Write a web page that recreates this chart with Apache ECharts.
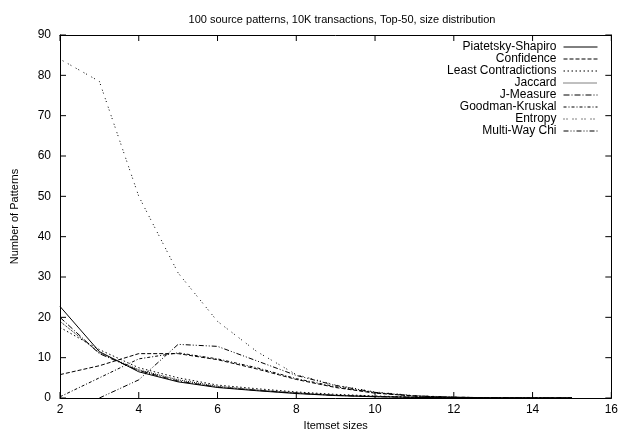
<!DOCTYPE html>
<html>
<head>
<meta charset="utf-8">
<script src="https://cdn.jsdelivr.net/npm/echarts@6/dist/echarts.min.js"></script>
<style>
  html, body { margin: 0; padding: 0; background: #fff; }
  #main { width: 621px; height: 437px; }
</style>
</head>
<body>
<div id="main"></div>
<script>
// itemset sizes
var sizes = [2, 3, 4, 5, 6, 7, 8, 9, 10, 11, 12, 13, 14, 15];

var piatetsky = [22.7, 11.5, 6.5, 4, 2.6, 1.8, 1.1, 0.6, 0.3, 0.15, 0.05, 0.02, 0, 0];
var confidence = [5.8, 8, 11, 11, 9.5, 7.2, 4.6, 2.6, 1.2, 0.5, 0.2, 0.05, 0, 0];
var leastContr = [17.5, 12, 7.5, 5, 3.2, 2.3, 1.5, 0.9, 0.5, 0.2, 0.1, 0.05, 0, 0];
var jaccard = [19, 11.2, 7, 4.5, 2.9, 2, 1.3, 0.7, 0.4, 0.2, 0.08, 0.03, 0, 0];
var jMeasure = [20, 11, 6.8, 4.2, 2.7, 1.9, 1.2, 0.65, 0.35, 0.15, 0.06, 0.02, 0, 0];
var goodman = [0.3, 5, 9.7, 11.2, 9.7, 7.5, 4.8, 2.8, 1.3, 0.5, 0.2, 0.05, 0, 0];
var entropy = [84, 78.5, 50, 31, 19, 11.5, 5.8, 3.2, 1.5, 0.6, 0.2, 0.05, 0, 0];
var multiWay = [null, 0, 4.5, 13.3, 12.8, 9.2, 5.6, 3.1, 1.4, 0.5, 0.2, 0.05, 0, 0];

// tick values (gnuplot style, mirrored on all four sides)
var xTicks = [2, 4, 6, 8, 10, 12, 14, 16];
var yTicks = [0, 10, 20, 30, 40, 50, 60, 70, 80, 90];

var names = ['Piatetsky-Shapiro', 'Confidence', 'Least Contradictions', 'Jaccard',
  'J-Measure', 'Goodman-Kruskal', 'Entropy', 'Multi-Way Chi'];
var values = [piatetsky, confidence, leastContr, jaccard, jMeasure, goodman, entropy, multiWay];
var dashes = ['solid', [4, 2], [1.5, 2.5], [1, 1], [6, 2, 1, 2], [3, 2, 1, 2], [1, 2, 1, 5], [5, 2, 1, 2, 1, 2]];

var font = 'Liberation Sans, Arial, Helvetica, sans-serif';

function pairs(arr) {
  var out = [];
  for (var i = 0; i < sizes.length; i++) {
    out.push([sizes[i], arr[i]]);
  }
  return out;
}

var series = [];
for (var i = 0; i < names.length; i++) {
  series.push({
    name: names[i],
    type: 'line',
    data: pairs(values[i]),
    symbol: 'none',
    connectNulls: false,
    animation: false,
    lineStyle: { color: '#000', width: 1, type: dashes[i] },
    itemStyle: { color: '#000' }
  });
}

// tick marks drawn inside the frame through the axes' own scales
var tickData = [];
xTicks.forEach(function (v) { tickData.push([v, 0, 0]); });
yTicks.forEach(function (v) { tickData.push([2, v, 1]); });
var TL = 6;
series.push({
  name: 'ticks',
  type: 'custom',
  silent: true,
  animation: false,
  clip: false,
  data: tickData,
  renderItem: function (params, api) {
    var kind = api.value(2);
    var sty = { stroke: '#000', lineWidth: 1 };
    if (kind === 0) {
      var b = api.coord([api.value(0), 0]);
      var t = api.coord([api.value(0), 90]);
      return { type: 'group', children: [
        { type: 'line', shape: { x1: b[0], y1: b[1], x2: b[0], y2: b[1] - TL }, style: sty },
        { type: 'line', shape: { x1: t[0], y1: t[1], x2: t[0], y2: t[1] + TL }, style: sty }
      ] };
    }
    var l = api.coord([2, api.value(1)]);
    var r = api.coord([16, api.value(1)]);
    return { type: 'group', children: [
      { type: 'line', shape: { x1: l[0], y1: l[1], x2: l[0] + TL, y2: l[1] }, style: sty },
      { type: 'line', shape: { x1: r[0], y1: r[1], x2: r[0] - TL, y2: r[1] }, style: sty }
    ] };
  }
});

var chart = echarts.init(document.getElementById('main'), null, { renderer: 'canvas' });

var option = {
  backgroundColor: '#fff',
  animation: false,
  title: {
    text: '100 source patterns, 10K transactions, Top-50, size distribution',
    left: 337, top: 9, textAlign: 'center',
    textStyle: { fontFamily: font, fontSize: 11, fontWeight: 'normal', color: '#000' }
  },
  legend: {
    data: names,
    orient: 'vertical',
    align: 'right',
    right: 18, top: 36,
    itemWidth: 34, itemHeight: 8, itemGap: 0,
    itemStyle: { opacity: 0 },
    lineStyle: { width: 1 },
    textStyle: { fontFamily: font, fontSize: 12, color: '#000', padding: [0, 2, 0, 0] }
  },
  grid: { left: 60, right: 9, top: 35, bottom: 39 },
  xAxis: [{
    type: 'value', min: 2, max: 16, interval: 2,
    name: 'Itemset sizes', nameLocation: 'middle', nameGap: 21,
    nameTextStyle: { fontFamily: font, fontSize: 11, color: '#000' },
    axisLine: { show: true, onZero: false, lineStyle: { color: '#000', width: 1 } },
    axisTick: { show: false },
    axisLabel: { fontFamily: font, fontSize: 12, color: '#000', margin: 6 },
    splitLine: { show: false }
  }, {
    type: 'value', min: 2, max: 16, interval: 2, position: 'top',
    axisLine: { show: true, onZero: false, lineStyle: { color: '#000', width: 1 } },
    axisTick: { show: false },
    axisLabel: { show: false },
    splitLine: { show: false }
  }],
  yAxis: [{
    type: 'value', min: 0, max: 90, interval: 10,
    name: 'Number of Patterns', nameLocation: 'middle', nameGap: 40,
    nameTextStyle: { fontFamily: font, fontSize: 11, color: '#000' },
    axisLine: { show: true, onZero: false, lineStyle: { color: '#000', width: 1 } },
    axisTick: { show: false },
    axisLabel: { fontFamily: font, fontSize: 12, color: '#000', margin: 9 },
    splitLine: { show: false }
  }, {
    type: 'value', min: 0, max: 90, interval: 10, position: 'right',
    axisLine: { show: true, onZero: false, lineStyle: { color: '#000', width: 1 } },
    axisTick: { show: false },
    axisLabel: { show: false },
    splitLine: { show: false }
  }],
  series: series
};

chart.setOption(option);
</script>
</body>
</html>
